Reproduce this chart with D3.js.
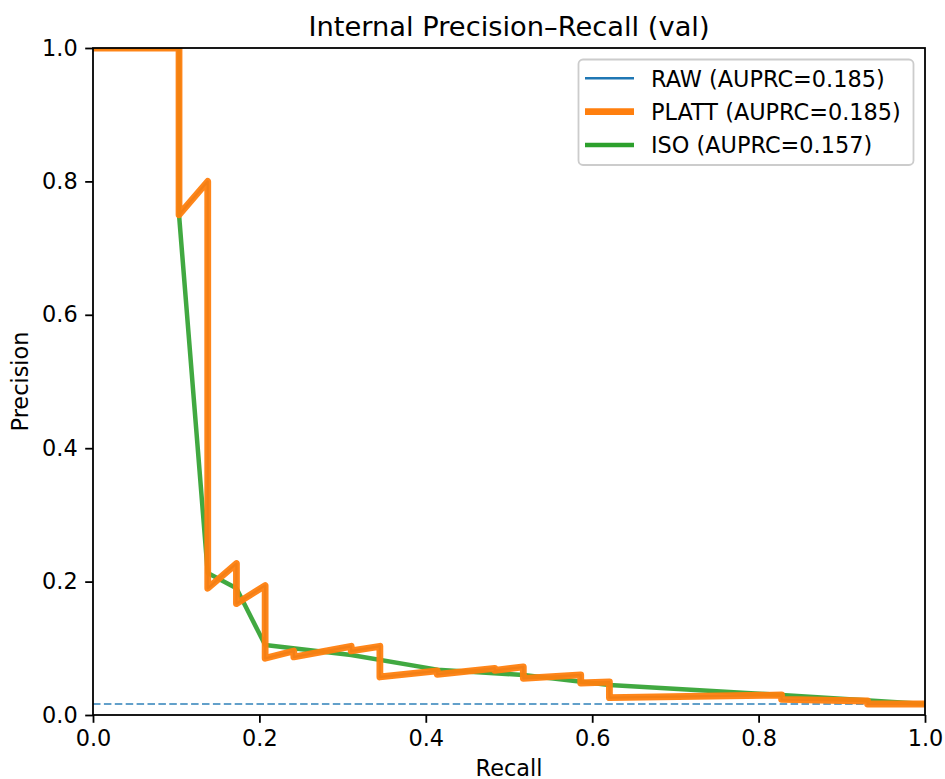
<!DOCTYPE html>
<html>
<head>
<meta charset="utf-8">
<script src="https://cdn.jsdelivr.net/npm/d3@7"></script>
<style>
  html, body { margin: 0; padding: 0; background: #ffffff; }
  svg { display: block; font-family: "DejaVu Sans", sans-serif; }
</style>
</head>
<body>
<svg id="chart" width="945" height="779"></svg>
<script>
// ---------------- data ----------------
const titleText = "Internal Precision\u2013Recall (val)";
const xLabel = "Recall";
const yLabel = "Precision";
const xTicks = [0.0, 0.2, 0.4, 0.6, 0.8, 1.0];
const yTicks = [0.0, 0.2, 0.4, 0.6, 0.8, 1.0];

const seriesNames = ["RAW (AUPRC=0.185)", "PLATT (AUPRC=0.185)", "ISO (AUPRC=0.157)"];

// PLATT curve (recall, precision)
const plattRecall = [0, 0.1034, 0.1034, 0.1379, 0.1379, 0.1724, 0.1724, 0.2069, 0.2069,
  0.2414, 0.2414, 0.2759, 0.3103, 0.3103, 0.3448, 0.3448, 0.4138, 0.4138, 0.4828, 0.4828,
  0.5172, 0.5172, 0.5862, 0.5862, 0.6207, 0.6207, 0.8276, 0.8276, 0.9310, 0.9310, 1.0];
const plattPrecision = [1, 1, 0.75, 0.80, 0.190, 0.227, 0.167, 0.194, 0.085,
  0.096, 0.087, 0.095, 0.103, 0.096, 0.103, 0.057, 0.066, 0.061, 0.070, 0.067,
  0.072, 0.055, 0.060, 0.048, 0.0495, 0.026, 0.030, 0.0235, 0.021, 0.0165, 0.0165];

// RAW curve: identical ranking to PLATT, fully hidden beneath it
const rawRecall = plattRecall.slice();
const rawPrecision = plattPrecision.slice();

// ISO curve (recall, precision)
const isoRecall = [0, 0.1034, 0.1034, 0.1379, 0.1724, 0.2069, 0.3103, 0.4138, 0.5172, 0.6207, 0.8276, 1.0];
const isoPrecision = [1, 1, 0.75, 0.213, 0.19, 0.105, 0.09, 0.068, 0.06, 0.045, 0.030, 0.0165];

// prevalence baseline
const baselinePrecision = 0.0165;

// ---------------- layout ----------------
const svg = d3.select("#chart");
const pL = 93, pR = 925, pT = 48, pB = 715;
const x = d3.scaleLinear().domain([0, 1]).range([pL, pR]);
const y = d3.scaleLinear().domain([0, 1]).range([pB, pT]);

const colors = { raw: "#1f77b4", platt: "#ff7f0e", iso: "#2ca02c" };

svg.append("defs").append("clipPath").attr("id", "plotclip")
  .append("rect").attr("x", pL).attr("y", pT)
  .attr("width", pR - pL).attr("height", pB - pT);

const plot = svg.append("g").attr("clip-path", "url(#plotclip)");

const line = d3.line().x(d => x(d[0])).y(d => y(d[1]));
const zip = (a, b) => a.map((v, i) => [v, b[i]]);

// baseline dashed
plot.append("path")
  .datum([[0, baselinePrecision], [1, baselinePrecision]])
  .attr("d", line)
  .attr("fill", "none")
  .attr("stroke", colors.raw)
  .attr("stroke-opacity", 0.7)
  .attr("stroke-width", 2.2)
  .attr("stroke-dasharray", "7.5,3.4");

// RAW
plot.append("path")
  .datum(zip(rawRecall, rawPrecision))
  .attr("d", line)
  .attr("fill", "none")
  .attr("stroke", colors.raw)
  .attr("stroke-width", 2.4)
  .attr("stroke-linejoin", "round");

// ISO
plot.append("path")
  .datum(zip(isoRecall, isoPrecision))
  .attr("d", line)
  .attr("fill", "none")
  .attr("stroke", colors.iso)
  .attr("stroke-opacity", 0.9)
  .attr("stroke-width", 4.5)
  .attr("stroke-linejoin", "round");

// PLATT
plot.append("path")
  .datum(zip(plattRecall, plattPrecision))
  .attr("d", line)
  .attr("fill", "none")
  .attr("stroke", colors.platt)
  .attr("stroke-opacity", 0.95)
  .attr("stroke-width", 6.8)
  .attr("stroke-linejoin", "round");

// ---------------- axes ----------------
const fmt = d3.format(".1f");
const fontSize = 22.4;

const xAxis = svg.append("g").attr("transform", `translate(0,${pB})`)
  .call(d3.axisBottom(x).tickValues(xTicks).tickFormat(fmt).tickSize(7.8).tickPadding(7.5));
const yAxis = svg.append("g").attr("transform", `translate(${pL},0)`)
  .call(d3.axisLeft(y).tickValues(yTicks).tickFormat(fmt).tickSize(7.8).tickPadding(7.5));

[xAxis, yAxis].forEach(g => {
  g.select(".domain").remove();
  g.selectAll(".tick line").attr("stroke", "#000").attr("stroke-width", 1.8);
  g.selectAll(".tick text").attr("fill", "#000")
    .style("font-family", "'DejaVu Sans', sans-serif")
    .style("font-size", fontSize + "px");
});

// frame (spines)
svg.append("rect")
  .attr("x", pL).attr("y", pT)
  .attr("width", pR - pL).attr("height", pB - pT)
  .attr("fill", "none").attr("stroke", "#000").attr("stroke-width", 1.8);

// labels
svg.append("text")
  .attr("x", (pL + pR) / 2).attr("y", 35.5)
  .attr("text-anchor", "middle")
  .style("font-size", "27.3px")
  .attr("fill", "#000")
  .text(titleText);

svg.append("text")
  .attr("x", (pL + pR) / 2).attr("y", 775.5)
  .attr("text-anchor", "middle")
  .style("font-size", fontSize + "px")
  .attr("fill", "#000")
  .text(xLabel);

svg.append("text")
  .attr("transform", `translate(28,${(pT + pB) / 2}) rotate(-90)`)
  .attr("text-anchor", "middle")
  .style("font-size", fontSize + "px")
  .attr("fill", "#000")
  .text(yLabel);

// ---------------- legend ----------------
const legendStyles = [
  { color: colors.raw, width: 2.6 },
  { color: colors.platt, width: 6.8 },
  { color: colors.iso, width: 4.5 }
];
const lg = svg.append("g");
lg.append("rect")
  .attr("x", 578.5).attr("y", 59.5)
  .attr("width", 335).attr("height", 105.5)
  .attr("rx", 4.5).attr("ry", 4.5)
  .attr("fill", "#ffffff").attr("fill-opacity", 0.8)
  .attr("stroke", "#cccccc").attr("stroke-width", 1.8);

seriesNames.forEach((name, i) => {
  const cy = 78.3 + i * 33.4;
  lg.append("line")
    .attr("x1", 585).attr("x2", 634)
    .attr("y1", cy).attr("y2", cy)
    .attr("stroke", legendStyles[i].color)
    .attr("stroke-width", legendStyles[i].width);
  lg.append("text")
    .attr("x", 651).attr("y", cy + 8.2)
    .style("font-size", fontSize + "px")
    .attr("fill", "#000")
    .text(name);
});
</script>
</body>
</html>
